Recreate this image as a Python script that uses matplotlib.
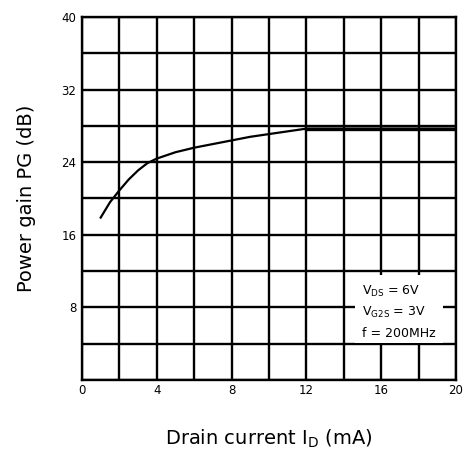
import matplotlib
matplotlib.use("Agg")
import matplotlib.pyplot as plt
from matplotlib.patches import Rectangle

# Data
drain_current = [1.0, 1.5, 2.0, 2.5, 3.0, 3.5, 4.0, 5.0, 6.0, 7.0, 8.0, 9.0, 10.0, 11.0, 12.0, 14.0, 16.0, 18.0, 20.0]
power_gain = [17.9, 19.6, 20.9, 22.1, 23.1, 23.9, 24.4, 25.1, 25.6, 26.0, 26.4, 26.8, 27.1, 27.4, 27.7, 27.7, 27.7, 27.7, 27.7]
x_ticks = [0, 4, 8, 12, 16, 20]
y_ticks = [8, 16, 24, 32, 40]
annotations = ["V$_{\\mathrm{DS}}$ = 6V", "V$_{\\mathrm{G2S}}$ = 3V", "f = 200MHz"]

fig = plt.figure(figsize=(4.68, 4.58), dpi=100)
ax = fig.add_axes([82/468, 1 - 380/458, (456-82)/468, (380-17)/458])
ax.set_xlim(0, 20)
ax.set_ylim(0, 40)

# grid lines
for gx in range(0, 21, 2):
    ax.axvline(gx, color="black", lw=1.7, zorder=1)
for gy in range(0, 41, 4):
    ax.axhline(gy, color="black", lw=1.7, zorder=1)

for s in ax.spines.values():
    s.set_linewidth(1.7)

ax.plot(drain_current, power_gain, color="black", lw=1.6, zorder=3)
ax.plot(drain_current[14:], power_gain[14:], color="black", lw=2.4, zorder=3)

# white box for annotation
ax.add_patch(Rectangle((14.6, 4.1), 4.7, 7.5, facecolor="white", edgecolor="none", zorder=2))
for i, t in enumerate(annotations):
    ax.text(14.95, 9.8 - i * 2.35, t, fontsize=9, va="center", ha="left", zorder=4,
            family="DejaVu Sans")

ax.set_xticks(x_ticks)
ax.set_yticks(y_ticks)
ax.tick_params(length=0, labelsize=8.5)
ax.tick_params(axis="x", pad=3)
ax.tick_params(axis="y", pad=4)
ax.set_xlabel("Drain current I$_{\\mathrm{D}}$ (mA)", fontsize=14, labelpad=22)
ax.set_ylabel("Power gain PG (dB)", fontsize=14, labelpad=18)

fig.savefig("out.png", dpi=100)
